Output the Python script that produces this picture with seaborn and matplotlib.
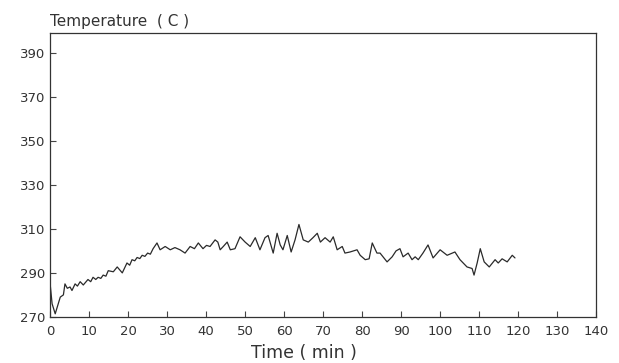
import matplotlib
matplotlib.use("Agg")
import matplotlib.pyplot as plt
import seaborn as sns
import pandas as pd

time_min = [0.0, 0.5, 1.3, 2.0, 2.6, 3.4, 3.8, 4.4, 5.1, 5.6, 6.4, 7.0, 7.7, 8.5, 9.7, 10.4, 11.0, 11.7,
            12.3, 13.0, 13.6, 14.3, 14.9, 16.2, 17.2, 18.5, 19.7, 20.4, 21.0, 21.7, 22.3, 23.0, 23.6,
            24.3, 25.0, 25.7, 26.4, 27.4,
            28.2, 29.5, 30.8, 32.0, 33.3, 34.6, 35.9, 37.0, 38.0, 39.2, 40.1, 41.0, 42.3, 43.0, 43.6,
            44.4, 45.4, 46.2, 47.4, 48.7, 50.0, 51.3, 52.6, 53.8, 55.1, 55.9, 57.2, 58.2, 59.0, 59.7,
            60.8, 61.8, 62.8, 63.8, 64.9, 66.2, 67.4, 68.5, 69.3, 70.5, 71.8, 72.6, 73.6, 74.9, 75.6,
            76.9, 78.7, 79.5, 80.8, 81.8, 82.6, 83.8, 84.6, 86.4, 87.7, 88.7, 89.7, 90.5, 91.8, 92.8,
            93.6, 94.4, 95.6, 96.9, 98.2, 100.0, 101.8, 103.8, 105.1, 106.9, 108.2, 108.7, 109.5,
            110.3, 111.3, 112.6, 114.1, 114.9, 115.9, 117.2, 118.5, 119.2]
temperature = [285.0, 276.0, 271.4, 275.5, 279.0, 280.0, 285.0, 283.0, 283.6, 282.0, 285.0, 284.0, 286.0,
               284.5, 287.0, 286.0, 288.0, 287.0, 288.0, 287.5, 289.0, 288.5, 291.0, 290.5, 292.7, 290.0,
               294.5, 293.5, 296.0, 295.5, 297.0, 296.5, 298.0, 297.5, 299.0, 298.5, 301.0, 303.6,
               300.5, 302.0, 300.5, 301.5, 300.5, 299.0,
               302.0, 301.0, 303.6, 301.0, 302.5, 302.0, 305.0, 304.0, 300.5, 302.0, 304.0, 300.5, 301.0,
               306.4, 304.0, 302.0, 306.0, 300.5, 306.0, 307.0, 299.0, 308.0, 302.7, 300.5, 307.0, 299.5,
               305.0, 312.0, 305.0, 304.0, 306.0, 308.0, 304.0, 306.0, 304.0, 306.4, 300.5, 302.0, 299.0,
               299.5, 300.5, 298.0, 296.0, 296.4, 303.6, 299.0, 299.0, 295.0, 297.3, 300.0, 301.0, 297.3,
               299.0, 296.0, 297.3, 296.0, 299.0, 302.7, 296.8, 300.5, 298.0, 299.5, 296.0, 292.7, 292.0,
               289.0, 294.5, 301.0, 295.0, 292.7, 296.0, 294.5, 296.4, 295.0, 298.0, 296.8]

xticks = list(range(0, 141, 10))
yticks = list(range(270, 391, 20))

sns.set_style("ticks")
plt.rcParams['font.family'] = ['DejaVu Sans']

fig = plt.figure(figsize=(6.19, 3.63), dpi=100)
ax = fig.add_axes([0.081, 0.127, 0.882, 0.782])
df = pd.DataFrame({"Time": time_min, "Temp": temperature})
sns.lineplot(data=df, x="Time", y="Temp", ax=ax, color="#2a2a2a", linewidth=0.9)

ax.set_xlim(0, 140)
ax.set_ylim(270, 399)
ax.set_xticks(xticks)
ax.set_yticks(yticks)
ax.tick_params(direction="in", length=4, width=0.8, colors="#444444", labelsize=9.5, labelcolor="#333333")
ax.tick_params(axis="x", pad=6)
for s in ax.spines.values():
    s.set_color("#333333")
    s.set_linewidth(0.9)
ax.set_xlabel("Time ( min )", fontsize=12.5, color="#333333")
ax.xaxis.set_label_coords(0.465, -0.128)
ax.xaxis.label.set_va("center")
ax.set_ylabel("")
ax.text(0.0, 1.015, "Temperature  ( C )", transform=ax.transAxes, ha="left", va="bottom",
        fontsize=11, color="#333333")
fig.savefig("out.png", dpi=100, facecolor="white")
